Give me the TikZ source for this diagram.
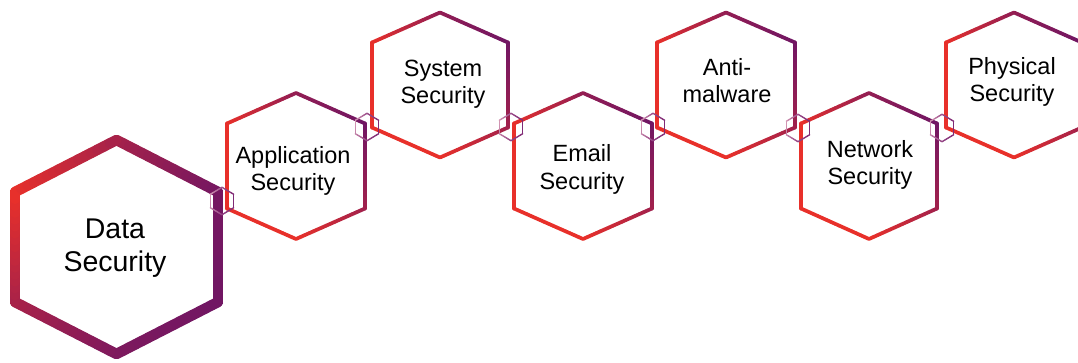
\documentclass[tikz,border=0pt]{standalone}
\usepackage{fontspec}
\setmainfont{Liberation Sans}
\definecolor{hred}{RGB}{232,48,42}
\definecolor{hpurple}{RGB}{112,22,100}
\definecolor{cpink}{RGB}{222,165,188}
\definecolor{cpurple}{RGB}{128,42,118}
\makeatletter
\def\hx@parse#1/#2/#3/#4/#5/#6\@nil{\def\tA{#1}\def\tB{#2}\def\tC{#3}\def\tD{#4}\def\tE{#5}\def\tF{#6}}
\def\hx@cols#1/#2\@nil{\def\colA{#1}\def\colB{#2}}
% #1 cx, #2 cy, #3 half width, #4 half height, #5 corner offset, #6 line width, #7 colA/colB, #8 t-values top/UR/LR/bottom/LL/UL
\newcommand\hexring[8]{%
  \hx@parse#8\@nil
  \hx@cols#7\@nil
  \foreach \xa/\ya/\ta/\xb/\yb/\tb in {
    (#1)/(#2-#4)/\tA/(#1+#3)/(#2-#5)/\tB,
    (#1+#3)/(#2-#5)/\tB/(#1+#3)/(#2+#5)/\tC,
    (#1+#3)/(#2+#5)/\tC/(#1)/(#2+#4)/\tD,
    (#1)/(#2+#4)/\tD/(#1-#3)/(#2+#5)/\tE,
    (#1-#3)/(#2+#5)/\tE/(#1-#3)/(#2-#5)/\tF,
    (#1-#3)/(#2-#5)/\tF/(#1)/(#2-#4)/\tA}{%
    \foreach \i in {1,...,16}{%
      \pgfmathsetmacro\px{\xa+(\xb-\xa)*(\i-1)/16}%
      \pgfmathsetmacro\py{\ya+(\yb-\ya)*(\i-1)/16}%
      \pgfmathsetmacro\qx{\xa+(\xb-\xa)*\i/16}%
      \pgfmathsetmacro\qy{\ya+(\yb-\ya)*\i/16}%
      \pgfmathtruncatemacro\tv{\ta+(\tb-\ta)*(\i-0.5)/16}%
      \draw[line width=#6, line cap=round, color=\colB!\tv!\colA] (\px,\py) -- (\qx,\qy);
    }%
  }%
}
\makeatother
\tikzset{
  lbl/.style={align=center, inner sep=0pt, text=black, font=\fontsize{23.5}{27.5}\selectfont},
  biglbl/.style={align=center, inner sep=0pt, text=black, font=\fontsize{28.5}{33}\selectfont}
}
\begin{document}
\begin{tikzpicture}[x=1pt,y=-1pt]
\useasboundingbox (0,0) rectangle (1078,363);
\clip (0,0) rectangle (1078,363);
% large hexagon
\hexring{116.5}{247}{101.5}{107}{55}{10.5pt}{hred/hpurple}{55/95/100/90/55/0}
% small hexagons
\hexring{296}{166}{69}{73}{42.5}{3.7pt}{hred/hpurple}{72/100/60/0/0/0}
\hexring{440}{85}{68}{72.5}{42.5}{3.7pt}{hred/hpurple}{72/100/60/0/0/0}
\hexring{583}{166}{69}{73}{42.5}{3.7pt}{hred/hpurple}{72/100/60/0/0/0}
\hexring{726}{85}{69}{72.5}{42.5}{3.7pt}{hred/hpurple}{72/100/60/0/0/0}
\hexring{869}{166}{68}{73}{42.5}{3.7pt}{hred/hpurple}{72/100/60/0/0/0}
\hexring{1014}{85}{68}{72.5}{42.5}{3.7pt}{hred/hpurple}{72/100/60/0/0/0}
% small link hexagons
\hexring{222}{201}{11.7}{13.7}{6.7}{1.3pt}{cpink/cpurple}{70/100/100/80/30/10}
\hexring{367}{127}{11.7}{13.7}{6.7}{1.3pt}{cpink/cpurple}{70/100/100/80/30/10}
\hexring{511}{127}{11.7}{13.7}{6.7}{1.3pt}{cpink/cpurple}{70/100/100/80/30/10}
\hexring{653}{127}{11.7}{13.7}{6.7}{1.3pt}{cpink/cpurple}{70/100/100/80/30/10}
\hexring{798}{128}{11.7}{13.7}{6.7}{1.3pt}{cpink/cpurple}{70/100/100/80/30/10}
\hexring{942}{128}{11.7}{13.7}{6.7}{1.3pt}{cpink/cpurple}{70/100/100/80/30/10}
% labels
\node[biglbl] (data) at (115,248.5) {Data\\Security};
\node[lbl] (app) at (293,171) {Application\\Security};
\node[lbl] (sys) at (443,84) {System\\Security};
\node[lbl] (email) at (582,169.5) {Email\\Security};
\node[lbl] (anti) at (727,80.5) {Anti-\\malware};
\node[lbl] (net) at (870,165) {Network\\Security};
\node[lbl] (phys) at (1012,82) {Physical\\Security};
\end{tikzpicture}
\end{document}
